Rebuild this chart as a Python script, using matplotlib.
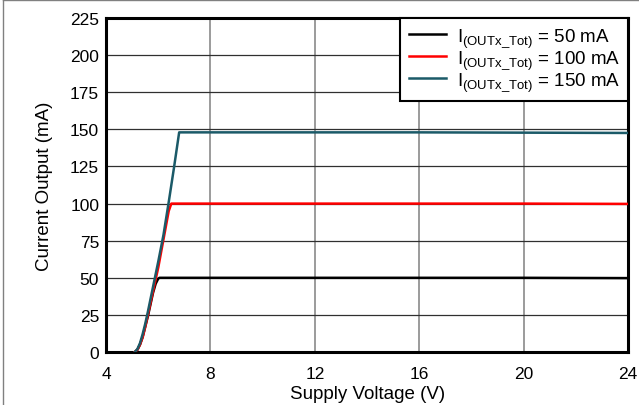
import numpy as np
import matplotlib.pyplot as plt
from matplotlib.lines import Line2D

plt.rcParams['font.family'] = ['Liberation Sans', 'DejaVu Sans']
plt.rcParams['mathtext.fontset'] = 'custom'
plt.rcParams['mathtext.rm'] = 'Liberation Sans'

# --- data ---
v_50 = [5.1, 5.2, 5.3, 5.4, 5.5, 5.6, 5.7, 5.8, 5.9, 6.0, 6.05, 8, 12, 16, 20, 24]
i_50 = [0, 1.5, 5, 10, 17, 24, 32, 40, 46, 49.5, 50, 50, 50, 50, 50, 49.8]

v_100 = [5.1, 5.2, 5.3, 5.4, 5.5, 5.6, 5.7, 5.8, 6.0, 6.2, 6.4, 6.5, 8, 12, 16, 20, 24]
i_100 = [0, 1.5, 5, 10, 17, 25, 33, 41, 57, 76, 95, 100, 100, 100, 100, 100, 99.8]

v_150 = [5.1, 5.2, 5.3, 5.4, 5.5, 5.6, 5.8, 6.0, 6.2, 6.4, 6.6, 6.8, 8, 12, 16, 20, 24]
i_150 = [0, 2, 6, 12, 19, 27, 44, 61, 79, 101, 124, 148, 148, 148, 148, 147.8, 147.6]

labels = [r'I$_{\mathregular{(OUTx\_Tot)}}$ = 50 mA',
          r'I$_{\mathregular{(OUTx\_Tot)}}$ = 100 mA',
          r'I$_{\mathregular{(OUTx\_Tot)}}$ = 150 mA']
colors = ['#000000', '#ff0000', '#1b5a68']

x_ticks = [4, 8, 12, 16, 20, 24]
y_ticks = [0, 25, 50, 75, 100, 125, 150, 175, 200, 225]

fig = plt.figure(figsize=(6.39, 4.06), dpi=100)
ax = fig.add_axes([0.166, 0.1305, 0.817, 0.8225])

ax.plot(v_50, i_50, color=colors[0], lw=1.8, label=labels[0], zorder=3)
ax.plot(v_100, i_100, color=colors[1], lw=1.8, label=labels[1], zorder=3)
ax.plot(v_150, i_150, color=colors[2], lw=1.8, label=labels[2], zorder=4)

ax.set_xlim(4, 24)
ax.set_ylim(0, 225)
ax.set_xticks(x_ticks)
ax.set_yticks(y_ticks)
ax.tick_params(length=0, labelsize=12.5)
ax.tick_params(axis='x', pad=10)
ax.tick_params(axis='y', pad=5)

ax.xaxis.grid(True, color='#808080', lw=1.1)
ax.yaxis.grid(True, color='#303030', lw=0.9)
ax.set_axisbelow(True)

for s in ax.spines.values():
    s.set_linewidth(2.2)
    s.set_color('black')

ax.set_xlabel('Supply Voltage (V)', fontsize=13.5, labelpad=3)
ax.set_ylabel('Current Output (mA)', fontsize=13.5, labelpad=12)

leg = ax.legend(loc='upper right', borderaxespad=0, fancybox=False,
                framealpha=1, edgecolor='black', fontsize=13.5,
                handlelength=2.0, handletextpad=0.55, labelspacing=-0.05,
                borderpad=0.45)
leg.get_frame().set_linewidth(1.5)

# thin gray frame on the left and top of the picture
fig.add_artist(Line2D([0.005, 0.005], [0, 0.998], transform=fig.transFigure, color='#808080', lw=1))
fig.add_artist(Line2D([0.005, 1], [0.998, 0.998], transform=fig.transFigure, color='#808080', lw=1))

fig.savefig('out.png', dpi=100)
